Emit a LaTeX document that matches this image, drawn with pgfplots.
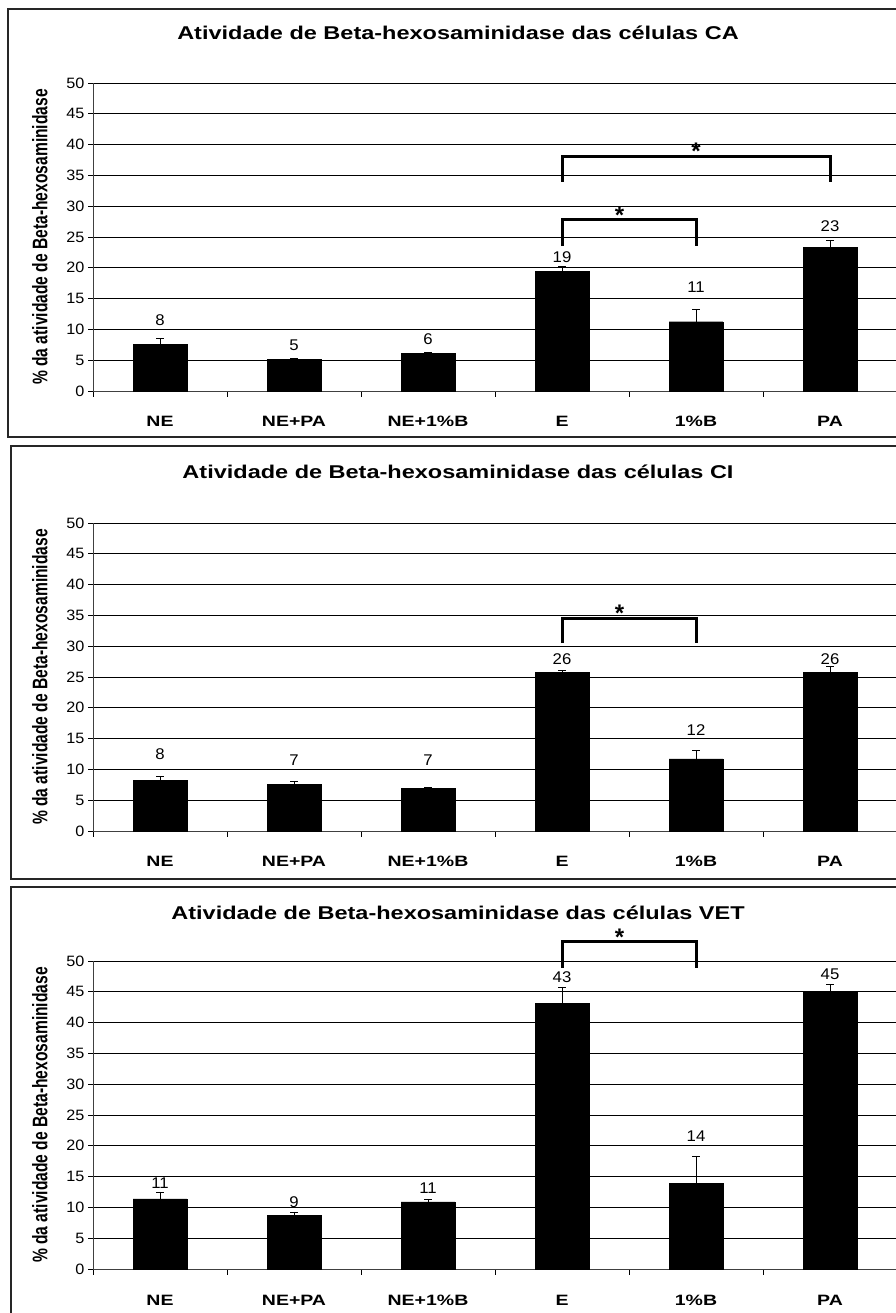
\documentclass[border=0pt]{standalone}
\usepackage{fontspec}
\setmainfont{Liberation Sans}
\newfontfamily\titf[FakeStretch=1.27]{Liberation Sans}
\newfontfamily\widef[FakeStretch=1.3]{Liberation Sans}
\newfontfamily\midf[FakeStretch=1.08]{Liberation Sans}
\usepackage{pgfplots}
\usepackage{pgfplotstable}
\pgfplotsset{compat=1.18}

\pgfplotstableread{
x y e ly lab
0 7.57 0.97 11.5 8
1 5.14 0.16 7.46 5
2 6.10 0.17 8.38 6
3 19.46 0.70 21.7 19
4 11.24 2.06 16.9 11
5 23.30 1.13 26.8 23
}\dataCA
\pgfplotstableread{
x y e ly lab
0 8.23 0.64 12.5 8
1 7.58 0.42 11.56 7
2 6.94 0.16 11.45 7
3 25.8 0.28 27.85 26
4 11.72 1.38 16.4 12
5 25.8 0.90 27.85 26
}\dataCI
\pgfplotstableread{
x y e ly lab
0 11.38 1.12 13.87 11
1 8.67 0.59 10.83 9
2 10.9 0.40 13.2 11
3 43.1 2.70 47.45 43
4 13.87 4.49 21.56 14
5 44.96 1.19 47.8 45
}\dataVET

\pgfplotsset{
  panel/.style={
    scale only axis, width=804pt, height=308pt,
    xmin=-0.5, xmax=5.5, ymin=0, ymax=50,
    ytick={0,5,...,50},
    ymajorgrids, grid style={black, line width=0.7pt},
    xtick={0,...,5}, xticklabels={NE,NE+PA,NE+1\%B,E,1\%B,PA},
    minor xtick={-0.5,0.5,...,5.5},
    major x tick style={draw=none},
    axis lines*=left, axis line style={-, line width=0.8pt, black!75},
    tick align=outside, tick pos=left,
    major tick length=5pt, minor tick length=6pt,
    tick style={black, line width=0.7pt},
    xticklabel style={font=\widef\bfseries\fontsize{15}{17}\selectfont, anchor=base, yshift=-31pt},
    yticklabel style={font=\midf\fontsize{15}{17}\selectfont},
    /pgf/number format/assume math mode=true,
    ylabel={\% da atividade de Beta-hexosaminidase},
    ylabel style={font=\bfseries\fontsize{15.6}{18}\selectfont, at={(axis description cs:-0.066,0.5)}, anchor=center, yscale=1.35},
    title style={font=\titf\bfseries\fontsize{18.5}{21}\selectfont, anchor=center},
    clip=false,
  },
  bars/.style={ybar, bar width=0.4, fill=black, draw=black,
    error bars/.cd, y dir=plus, y explicit,
    error bar style={black, line width=0.7pt},
    error mark options={rotate=90, black, mark size=4pt, line width=0.7pt}},
  labs/.style={only marks, mark=*, mark size=0pt,
    scatter/use mapped color={draw=none, fill=none},
    nodes near coords, point meta=explicit symbolic,
    every node near coord/.append style={font=\midf\fontsize{15.5}{17}\selectfont, anchor=center, black}},
  stars/.style={only marks, mark=*, mark size=0pt,
    scatter/use mapped color={draw=none, fill=none},
    nodes near coords, point meta=explicit symbolic,
    every node near coord/.append style={font=\bfseries\fontsize{24}{26}\selectfont, anchor=center, black}},
  bracket/.style={black, line width=3pt, mark=none, line join=miter},
}

\begin{document}
\begin{tikzpicture}
% frames
\draw[line width=1.5pt, black!85] (8pt,876pt) rectangle (905pt,1304pt);
\draw[line width=1.5pt, black!85] (11pt,434pt) rectangle (905pt,867pt);
\draw[line width=1.5pt, black!85] (11pt,-10pt) rectangle (905pt,426pt);

% Panel 1: CA
\begin{axis}[panel, at={(93pt,922pt)}, anchor=south west,
  title={Atividade de Beta-hexosaminidase das células CA},
  title style={at={(axis description cs:0.454,1.142)}}]
\addplot[bars] table[x=x, y=y, y error=e] {\dataCA};
\addplot[labs] table[x=x, y=ly, meta=lab] {\dataCA};
\addplot[bracket] coordinates {(3,34) (3,38) (5,38) (5,34)};
\addplot[bracket] coordinates {(3,23.5) (3,27.8) (4,27.8) (4,23.5)};
\addplot[stars] coordinates {(4,38.9) [*] (3.43,28.5) [*]};
\end{axis}

% Panel 2: CI
\begin{axis}[panel, at={(93pt,482pt)}, anchor=south west,
  title={Atividade de Beta-hexosaminidase das células CI},
  title style={at={(axis description cs:0.454,1.146)}}]
\addplot[bars] table[x=x, y=y, y error=e] {\dataCI};
\addplot[labs] table[x=x, y=ly, meta=lab] {\dataCI};
\addplot[bracket] coordinates {(3,30.5) (3,34.5) (4,34.5) (4,30.5)};
\addplot[stars] coordinates {(3.43,35.4) [*]};
\end{axis}

% Panel 3: VET
\begin{axis}[panel, at={(93pt,44pt)}, anchor=south west,
  title={Atividade de Beta-hexosaminidase das células VET},
  title style={at={(axis description cs:0.454,1.136)}}]
\addplot[bars] table[x=x, y=y, y error=e] {\dataVET};
\addplot[labs] table[x=x, y=ly, meta=lab] {\dataVET};
\addplot[bracket] coordinates {(3,48.9) (3,53.1) (4,53.1) (4,48.9)};
\addplot[stars] coordinates {(3.43,53.8) [*]};
\end{axis}

\pgfresetboundingbox
\path[use as bounding box] (0pt,0pt) rectangle (895pt,1313pt);
\end{tikzpicture}
\end{document}
